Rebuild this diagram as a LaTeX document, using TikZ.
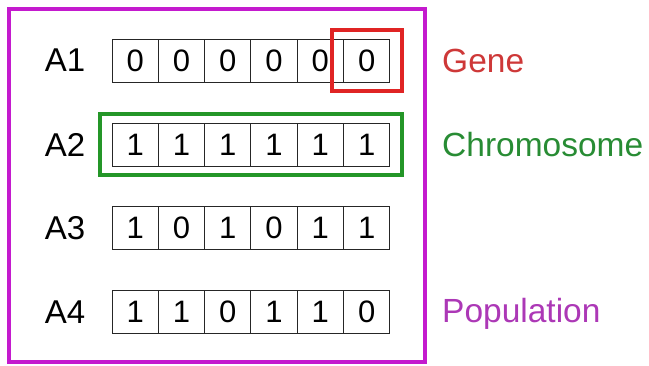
\documentclass[tikz,border=0pt]{standalone}
\usepackage{fontspec}
\setmainfont{Liberation Sans}
\usetikzlibrary{fit}
\definecolor{genered}{RGB}{224,36,36}
\definecolor{chromgreen}{RGB}{36,150,40}
\definecolor{popmagenta}{RGB}{196,26,206}
\definecolor{genetext}{RGB}{206,56,56}
\definecolor{chromtext}{RGB}{40,140,52}
\definecolor{poptext}{RGB}{172,56,182}

\begin{document}
\begin{tikzpicture}[x=1pt,y=-1pt,inner sep=0pt,
  cell/.style={draw=black!85,line width=0.9pt,minimum width=46.3pt,minimum height=43pt,
    font=\fontsize{31}{31}\selectfont},
  lab/.style={font=\fontsize{33}{33}\selectfont},
  genebox/.style={draw=genered,line width=4pt,inner xsep=11.5pt,inner ysep=9pt},
  chrombox/.style={draw=chromgreen,line width=4pt,inner xsep=11.5pt,inner ysep=9pt},
  side/.style={anchor=base west,font=\fontsize{33.5}{33.5}\selectfont}]
\useasboundingbox (0,0) rectangle (649,365);
\def\w{46.3}
% population
\draw[popmagenta,line width=4pt] (9,9) rectangle (425,362);
% chromosomes A1..A4
\foreach \r/\y/\bits in {1/60.5/{0,0,0,0,0,0},2/144.5/{1,1,1,1,1,1},3/228/{1,0,1,0,1,1},4/312/{1,1,0,1,1,0}} {
  \node[lab] (a\r) at (65,\y) {A\r};
  \foreach \b [count=\j] in \bits
    \node[cell] (c\r\j) at ({112+\w*(\j-0.5)},\y) {\b};
}
\node[genebox,fit=(c16)] (gene) {};
\node[chrombox,fit=(c21) (c26)] (chrom) {};

\node[side,text=genetext] (genelab) at (442,72) {Gene};
\node[side,text=chromtext] (chromlab) at (442,156) {Chromosome};
\node[side,text=poptext] (poplab) at (442,322) {Population};
\end{tikzpicture}
\end{document}
